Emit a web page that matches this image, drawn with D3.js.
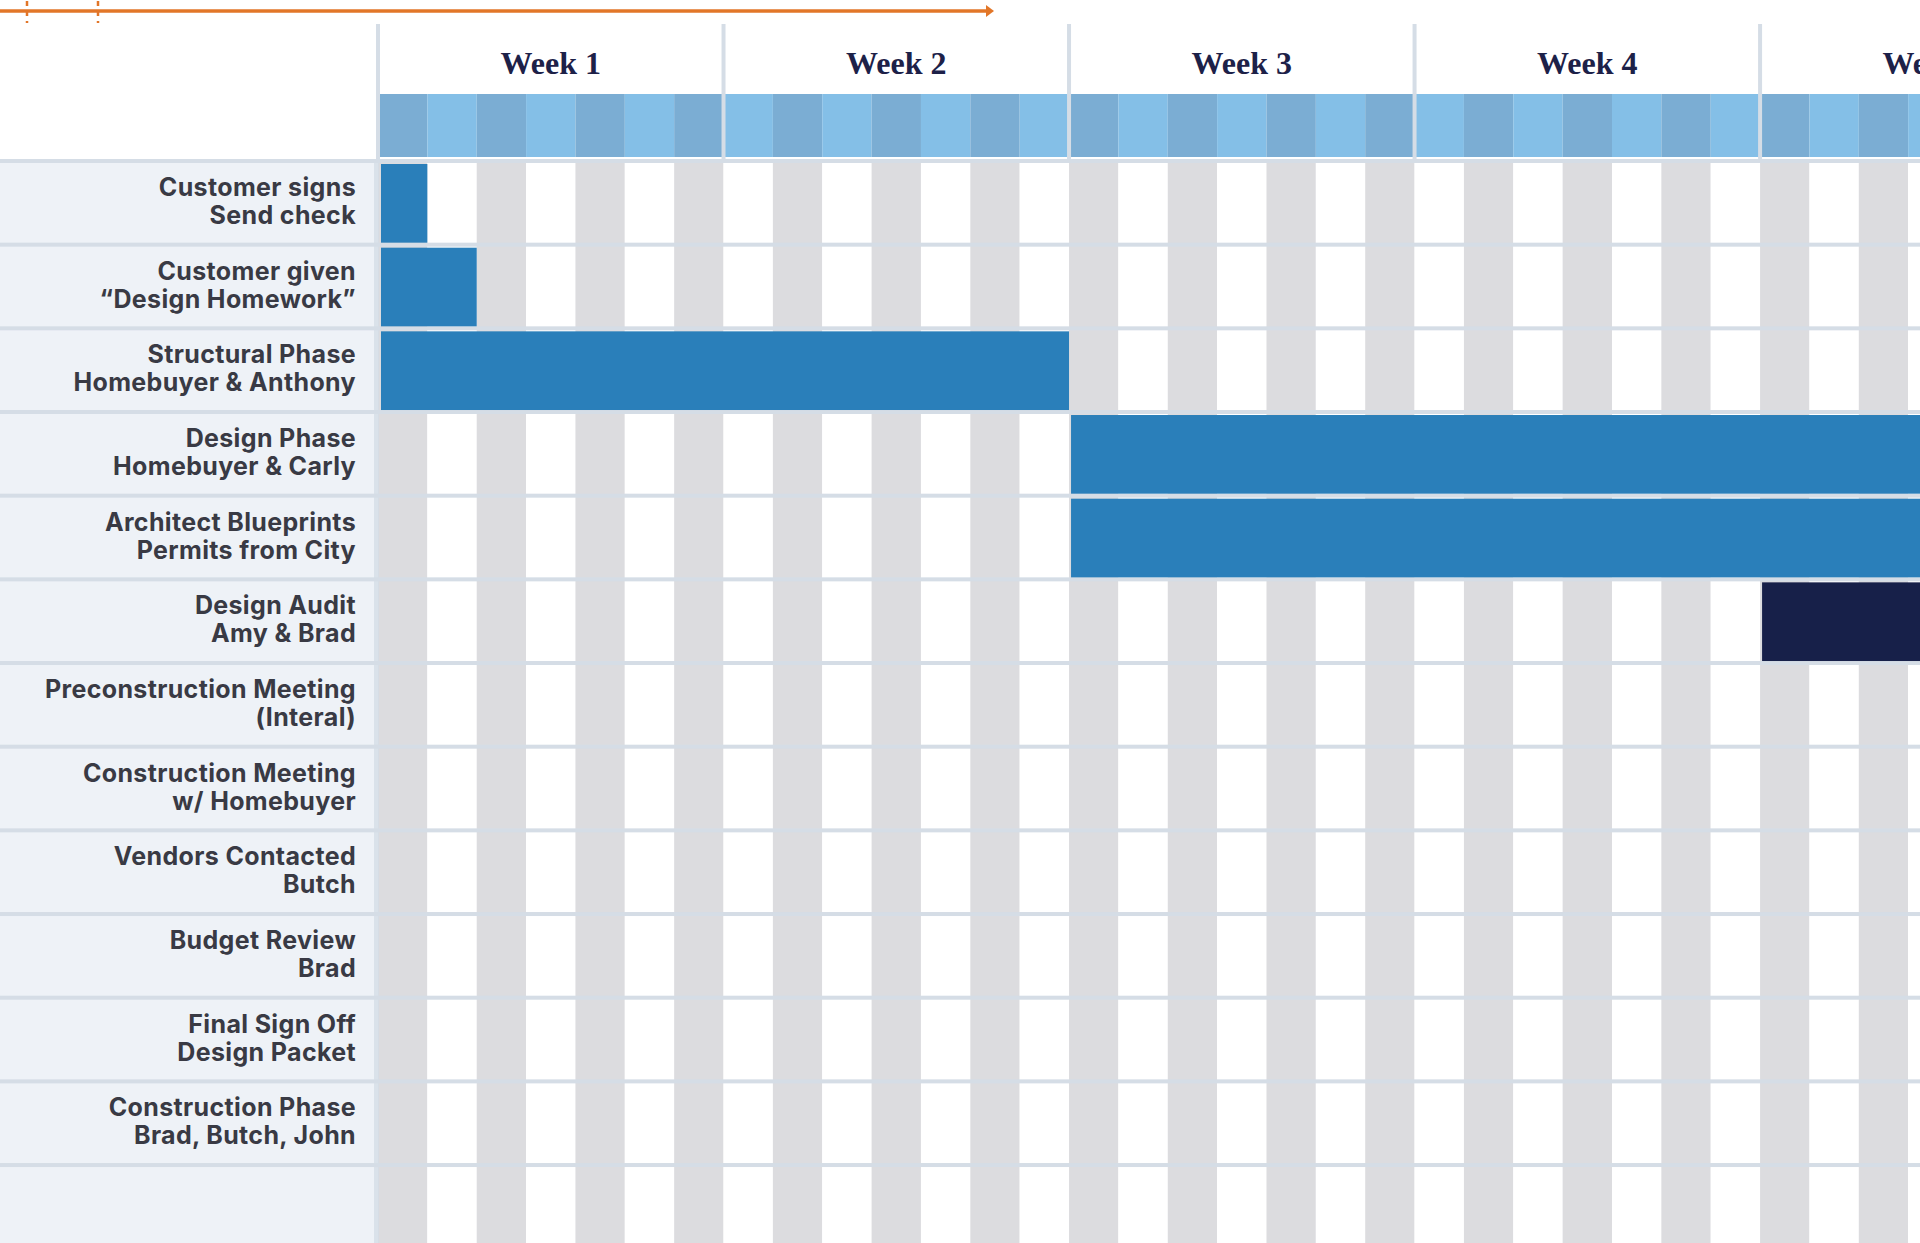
<!DOCTYPE html>
<html>
<head>
<meta charset="utf-8">
<script src="https://cdn.jsdelivr.net/npm/d3@7"></script>
<style>
  html, body { margin: 0; padding: 0; background: #ffffff; overflow: hidden; }
  svg { display: block; }
</style>
</head>
<body>
<svg id="chart" width="1920" height="1243"></svg>
<script>
// Schedule rows: each task is a two-line label
const taskLines = [
  ["Customer signs", "Send check"],
  ["Customer given", "\u201CDesign Homework\u201D"],
  ["Structural Phase", "Homebuyer & Anthony"],
  ["Design Phase", "Homebuyer & Carly"],
  ["Architect Blueprints", "Permits from City"],
  ["Design Audit", "Amy & Brad"],
  ["Preconstruction Meeting", "(Interal)"],
  ["Construction Meeting", "w/ Homebuyer"],
  ["Vendors Contacted", "Butch"],
  ["Budget Review", "Brad"],
  ["Final Sign Off", "Design Packet"],
  ["Construction Phase", "Brad, Butch, John"]
];

// Bars in days from project start (null = not scheduled in view)
const barStart = [0, 0, 0, 14, 14, 28, null, null, null, null, null, null];
const barEnd   = [1, 2, 14, 35, 35, 35, null, null, null, null, null, null];
const barKind  = ["phase", "phase", "phase", "phase", "phase", "audit", null, null, null, null, null, null];

const weekLabels = ["Week 1", "Week 2", "Week 3", "Week 4", "Week 5"];
const daysPerWeek = 7;

const W = 1920, H = 1243;
const svg = d3.select("#chart");

const colors = {
  panel: "#eef2f7",
  sep: "#d5dde6",
  dayGray: "#dcdcdf",
  dayWhite: "#ffffff",
  headDark: "#7badd3",
  headLight: "#84bfe7",
  phase: "#2a7fba",
  audit: "#172049",
  label: "#393a44",
  week: "#1d2148",
  orange: "#e27628"
};

const totalDays = weekLabels.length * daysPerWeek;
const gridLeft = 378;
const dayW = 49.36;
const x = d3.scaleLinear().domain([0, totalDays]).range([gridLeft, gridLeft + totalDays * dayW]);

const rowTop = 159;
const rowPitch = 83.67;
const sepH = 4;
const nRows = taskLines.length;
const y = d3.scaleBand()
  .domain(d3.range(nRows + 1))
  .range([rowTop, rowTop + (nRows + 1) * rowPitch])
  .paddingInner(0).paddingOuter(0);

const headTop = 24, headBandTop = 94, headBandBottom = 157;
const days = d3.range(totalDays);

// Left label panel
svg.append("rect").attr("x", 0).attr("y", rowTop).attr("width", gridLeft).attr("height", H - rowTop)
  .attr("fill", colors.panel);

// Day stripes in body
svg.append("g").selectAll("rect").data(days).join("rect")
  .attr("x", d => x(d)).attr("width", d => x(d + 1) - x(d))
  .attr("y", rowTop).attr("height", H - rowTop)
  .attr("fill", d => d % 2 === 0 ? colors.dayGray : colors.dayWhite);

// Header day cells
svg.append("g").selectAll("rect").data(days).join("rect")
  .attr("x", d => x(d)).attr("width", d => x(d + 1) - x(d))
  .attr("y", headBandTop).attr("height", headBandBottom - headBandTop)
  .attr("fill", d => d % 2 === 0 ? colors.headDark : colors.headLight);

// Row separators
svg.append("g").selectAll("rect").data(d3.range(nRows + 2)).join("rect")
  .attr("x", 0).attr("width", W)
  .attr("y", i => rowTop + i * rowPitch).attr("height", sepH)
  .attr("fill", colors.sep);

// Task bars
const bars = d3.range(nRows).filter(i => barStart[i] !== null);
svg.append("g").selectAll("rect").data(bars).join("rect")
  .attr("x", i => x(barStart[i]) + (barStart[i] === 0 ? 3 : 2))
  .attr("width", i => x(barEnd[i]) - x(barStart[i]) - (barStart[i] === 0 ? 3 : 2))
  .attr("y", i => y(i) + sepH + 1)
  .attr("height", rowPitch - sepH - 1)
  .attr("fill", i => barKind[i] === "audit" ? colors.audit : colors.phase);

// Week separators (header full, body faint)
const weekStarts = d3.range(weekLabels.length).map(w => w * daysPerWeek);
svg.append("g").selectAll("rect").data(weekStarts).join("rect")
  .attr("x", d => x(d) - 2).attr("width", 4)
  .attr("y", headTop).attr("height", headBandBottom - headTop + 2)
  .attr("fill", colors.sep);
svg.append("rect").attr("x", gridLeft - 4).attr("width", 5)
  .attr("y", rowTop).attr("height", H - rowTop).attr("fill", colors.sep).attr("opacity", 0.8);

// Week labels
svg.append("g").selectAll("text").data(weekLabels).join("text")
  .attr("x", (d, i) => (x(i * daysPerWeek) + x((i + 1) * daysPerWeek)) / 2)
  .attr("y", 74)
  .attr("text-anchor", "middle")
  .attr("font-family", "'Liberation Serif', 'DejaVu Serif', serif")
  .attr("font-weight", 700)
  .attr("font-size", 32)
  .attr("fill", colors.week)
  .text(d => d);

// Task labels
const labelG = svg.append("g")
  .attr("font-family", "Inter, 'Open Sans', sans-serif")
  .attr("font-weight", 700)
  .attr("font-size", 25)
  .attr("letter-spacing", 0.35)
  .attr("fill", colors.label)
  .attr("text-anchor", "end");
taskLines.forEach((lines, i) => {
  const cy = y(i) + sepH + (rowPitch - sepH) / 2;
  const t = labelG.append("text").attr("x", 356).attr("y", cy);
  lines.forEach((ln, k) => {
    t.append("tspan").attr("x", 356).attr("y", cy + (k === 0 ? -7 : 21)).text(ln);
  });
});

// Timeline arrow across the top
const arrowEnd = 994;
svg.append("line").attr("x1", 0).attr("x2", arrowEnd - 6).attr("y1", 11).attr("y2", 11)
  .attr("stroke", colors.orange).attr("stroke-width", 3.5);
svg.append("path")
  .attr("d", `M${arrowEnd - 8},5 L${arrowEnd},11 L${arrowEnd - 8},17 Z`)
  .attr("fill", colors.orange);
[27, 98].forEach(tx => {
  svg.append("line").attr("x1", tx).attr("x2", tx).attr("y1", 1).attr("y2", 23)
    .attr("stroke", colors.orange).attr("stroke-width", 2.5).attr("stroke-dasharray", "5,5");
});
</script>
</body>
</html>
